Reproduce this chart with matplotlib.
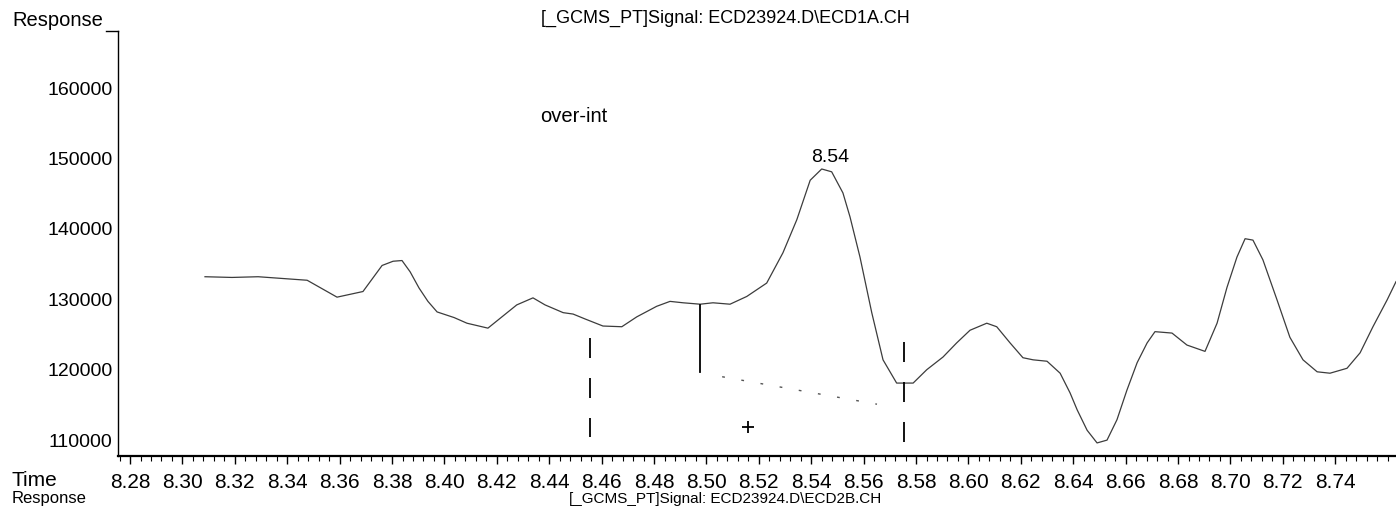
import numpy as np
import matplotlib
matplotlib.use('Agg')
import matplotlib.pyplot as plt
from matplotlib.ticker import MultipleLocator, FixedLocator, FormatStrFormatter
from matplotlib.lines import Line2D

# signal trace (time in min, response in counts)
time = [8.3086, 8.3189, 8.3289, 8.3476, 8.3533, 8.3590, 8.3689, 8.3762, 8.3804, 8.3838,
        8.3869, 8.3903, 8.3937, 8.3972, 8.4037, 8.4086, 8.4166, 8.4276, 8.4338, 8.4384,
        8.4453, 8.4491, 8.4537, 8.4605, 8.4677, 8.4734, 8.4810, 8.4861, 8.4911, 8.4976,
        8.5025, 8.5090, 8.5154, 8.5230, 8.5292, 8.5345, 8.5396, 8.5440, 8.5478, 8.5521,
        8.5548, 8.5586, 8.5631, 8.5674, 8.5726, 8.5789, 8.5841, 8.5903, 8.5955, 8.6006,
        8.6070, 8.6108, 8.6159, 8.6208, 8.6247, 8.6300, 8.6350, 8.6388, 8.6415, 8.6453,
        8.6491, 8.6529, 8.6567, 8.6605, 8.6644, 8.6682, 8.6712, 8.6777, 8.6834, 8.6903,
        8.6949, 8.6987, 8.7025, 8.7056, 8.7086, 8.7124, 8.7178, 8.7227, 8.7277, 8.7331,
        8.7380, 8.7445, 8.7495, 8.7544, 8.7598, 8.7632]
response = [133200, 133100, 133200, 132700, 131500, 130300, 131100, 134800, 135400, 135500,
            133900, 131600, 129700, 128200, 127400, 126600, 125900, 129200, 130200, 129200,
            128100, 127900, 127200, 126200, 126100, 127500, 129000, 129700, 129500, 129300,
            129500, 129300, 130400, 132300, 136600, 141300, 146900, 148500, 148100, 145100,
            141700, 136000, 128100, 121400, 118100, 118100, 120000, 121800, 123800, 125600,
            126600, 126100, 123800, 121700, 121400, 121200, 119500, 116700, 114300, 111400,
            109600, 110000, 112900, 117100, 121000, 123800, 125400, 125200, 123500, 122600,
            126600, 131700, 136000, 138600, 138400, 135600, 129900, 124600, 121400, 119700,
            119500, 120200, 122400, 126100, 129900, 132500]

# integration baseline and event marks
baseline_time = [8.5060, 8.5651]
baseline_resp = [119000, 115100]
start_mark = (8.4556, 124500, 110400)
split_mark = (8.4976, 129200, 119700)
end_mark = (8.5754, 123900, 109700)
plus_mark = (8.5159, 111900)

peak_rt = 8.54
peak_label_pos = (8.5472, 150200)
note_pos = (8.4365, 155900)

y_ticks = [110000, 120000, 130000, 140000, 150000, 160000]
x_ticks = [8.28, 8.30, 8.32, 8.34, 8.36, 8.38, 8.40, 8.42, 8.44, 8.46, 8.48, 8.50,
           8.52, 8.54, 8.56, 8.58, 8.60, 8.62, 8.64, 8.66, 8.68, 8.70, 8.72, 8.74]

plt.rcParams['font.family'] = ['Liberation Sans', 'DejaVu Sans']
plt.rcParams['lines.scale_dashes'] = False

W, H = 1396, 507
fig = plt.figure(figsize=(W/100, H/100), dpi=100)
ax = fig.add_axes([118/W, 1-456/H, 1-118/W, (456-31)/H])

ax.plot(time, response, color='#3c3c3c', lw=0.9)
ax.plot(baseline_time, baseline_resp, color='#555555', lw=1.0, linestyle=(0, (2, 12)))

dash = (0, (14.4, 14.4))
t, y0, y1 = start_mark
ax.plot([t, t], [y0, y1], color='black', lw=1.3, linestyle=dash)
t, y0, y1 = split_mark
ax.plot([t, t], [y0, y1], color='black', lw=1.3)
t, y0, y1 = end_mark
ax.plot([t, t], [y0, y1], color='black', lw=1.3, linestyle=dash)
ax.plot([plus_mark[0]], [plus_mark[1]], marker='+', color='black', ms=8, mew=1.3)

ax.text(peak_label_pos[0], peak_label_pos[1], '%.2f' % peak_rt, ha='center', va='center', fontsize=14)
ax.text(note_pos[0], note_pos[1], 'over-int', ha='left', va='center', fontsize=14.5)

ax.set_xlim(8.2754, 8.7632)
ax.set_ylim(107744, 168094)

ax.xaxis.set_major_locator(FixedLocator(x_ticks))
ax.xaxis.set_major_formatter(FormatStrFormatter('%.2f'))
ax.xaxis.set_minor_locator(MultipleLocator(0.004))
ax.yaxis.set_major_locator(FixedLocator(y_ticks))
ax.tick_params(axis='x', which='major', direction='out', length=6, width=1, pad=6, labelsize=15)
ax.tick_params(axis='x', which='minor', direction='out', length=3.5, width=0.8)
ax.tick_params(axis='y', which='major', length=0, pad=4, labelsize=14)

for side in ['top', 'right']:
    ax.spines[side].set_visible(False)
ax.spines['left'].set_linewidth(1.0)
ax.spines['bottom'].set_linewidth(1.6)

fig.add_artist(Line2D([106/W, 118/W], [1-31/H, 1-31/H], color='black', lw=1.0))
fig.text(12/W, 1-20/H, 'Response', ha='left', va='center', fontsize=14.5)
fig.text(725/W, 1-18/H, '[_GCMS_PT]Signal: ECD23924.D\\ECD1A.CH', ha='center', va='center', fontsize=13)
fig.text(12/W, 1-480/H, 'Time', ha='left', va='center', fontsize=15)
# the scan crops the next panel's header; keep it at the very bottom edge
fig.text(12/W, 1-506/H, 'Response', ha='left', va='bottom', fontsize=12)
fig.text(725/W, 1-506/H, '[_GCMS_PT]Signal: ECD23924.D\\ECD2B.CH', ha='center', va='bottom', fontsize=11)

fig.savefig('out.png', dpi=100)
